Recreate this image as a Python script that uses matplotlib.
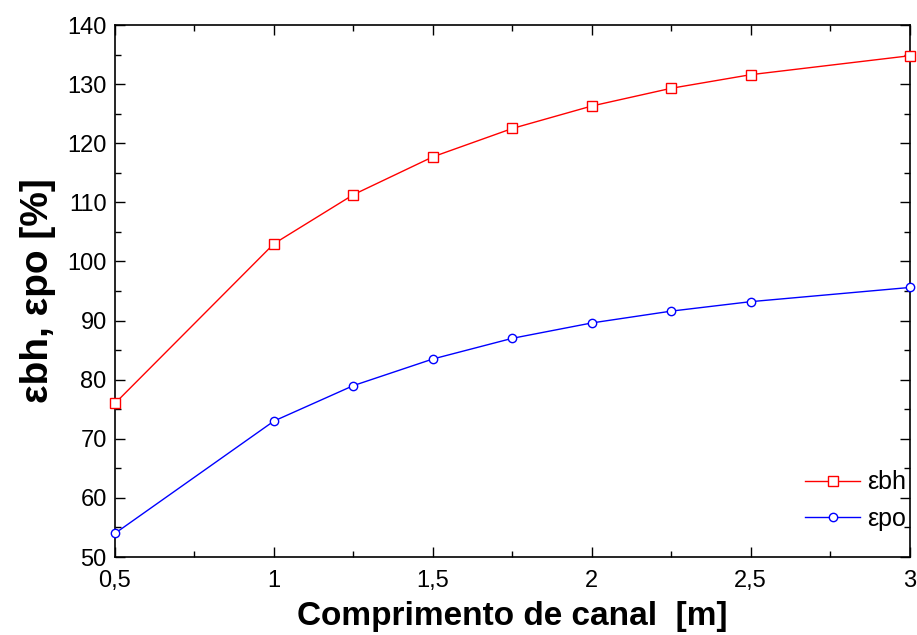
import numpy as np
import matplotlib
matplotlib.use('Agg')
import matplotlib.pyplot as plt
from matplotlib.ticker import MultipleLocator, FuncFormatter

plt.rcParams['font.family'] = ['Liberation Sans', 'DejaVu Sans']

# Comprimento de canal [m]
comprimento = [0.5, 1.0, 1.25, 1.5, 1.75, 2.0, 2.25, 2.5, 3.0]
# eficiencias [%]
eps_bh = [76.0, 103.0, 111.3, 117.7, 122.5, 126.3, 129.3, 131.6, 134.8]
eps_po = [54.0, 73.0, 79.0, 83.5, 87.0, 89.6, 91.6, 93.2, 95.6]

fig = plt.figure(figsize=(9.17, 6.35), dpi=100)
ax = fig.add_axes([0.1254, 0.1228, 0.8666, 0.8378])

ax.plot(comprimento, eps_bh, color='red', lw=1.0, marker='s', ms=7,
        mfc='white', mec='red', mew=1.0, label='\u03b5bh', clip_on=False, zorder=3)
ax.plot(comprimento, eps_po, color='blue', lw=1.0, marker='o', ms=6,
        mfc='white', mec='blue', mew=1.0, label='\u03b5po', clip_on=False, zorder=3)

ax.set_xlim(0.5, 3)
ax.set_ylim(50, 140)
ax.xaxis.set_major_locator(MultipleLocator(0.5))
ax.xaxis.set_minor_locator(MultipleLocator(0.25))
ax.yaxis.set_major_locator(MultipleLocator(10))
ax.yaxis.set_minor_locator(MultipleLocator(5))
ax.xaxis.set_major_formatter(FuncFormatter(lambda v, p: ('%g' % v).replace('.', ',')))

ax.tick_params(which='both', direction='in', top=True, right=True, labelsize=17)
ax.tick_params(axis='x', pad=9)
ax.tick_params(axis='y', pad=6)
ax.tick_params(which='major', length=7, width=1)
ax.tick_params(which='minor', length=4, width=1)
for s in ax.spines.values():
    s.set_linewidth(1.2)

ax.set_xlabel('Comprimento de canal  [m]', fontsize=24, fontweight='bold', labelpad=7)
ax.set_ylabel('\u03b5bh, \u03b5po [%]', fontsize=28, fontweight='bold', labelpad=8)

ax.legend(loc='upper left', bbox_to_anchor=(0.84, 0.205), frameon=False,
          fontsize=18, handlelength=2.2, handletextpad=0.3, labelspacing=0.5)

fig.savefig('out.png', dpi=100)
